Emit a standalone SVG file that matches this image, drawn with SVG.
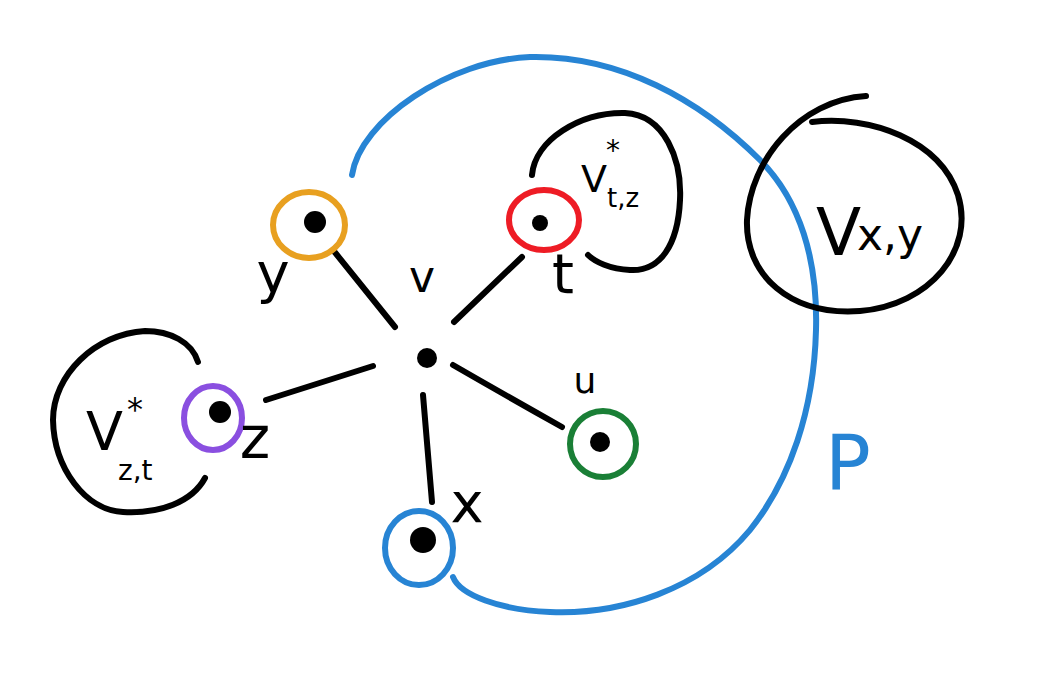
<svg xmlns="http://www.w3.org/2000/svg" width="1047" height="691" viewBox="0 0 1047 691">
<style>
.k{fill:none;stroke:#000;stroke-width:6;stroke-linecap:round;stroke-linejoin:round}
.ring{fill:none;stroke-width:6}
.dot{fill:#000}
.lbl{font-family:"DejaVu Sans","Liberation Sans",sans-serif;fill:#000}
.blue{stroke:#2784D4}
</style>
<rect width="1047" height="691" fill="#fff"/>
<g id="path-P">
<path class="k blue" d="M352,175 C360,120 450,60 530,57 C620,55 700,100 760,160 C800,200 818,260 816,330 C814,410 790,480 750,530 C700,590 620,615 550,612 C500,610 460,595 453,577"/>
<text class="lbl" x="848" y="490" font-size="76" text-anchor="middle" style="fill:#2784D4">P</text>
</g>
<g id="connectors">
<path class="k" d="M333,250 L395,327"/>
<path class="k" d="M522,257 L454,322"/>
<path class="k" d="M373,366 L266,400"/>
<path class="k" d="M423,395 L432,502"/>
<path class="k" d="M453,365 Q505,395 562,427"/>
</g>
<g id="node-v">
<circle class="dot" cx="427" cy="358" r="10"/>
<text class="lbl" x="422" y="292" font-size="44" text-anchor="middle">v</text>
</g>
<g id="node-y">
<ellipse class="ring" cx="309" cy="225" rx="36" ry="33" stroke="#E8A020"/>
<circle class="dot" cx="315" cy="222" r="11"/>
<text class="lbl" x="273" y="292" font-size="56" text-anchor="middle">y</text>
</g>
<g id="node-t">
<ellipse class="ring" cx="544" cy="220" rx="35" ry="30" stroke="#EE1C25"/>
<circle class="dot" cx="540" cy="223" r="8"/>
<text class="lbl" x="563" y="293" font-size="56" text-anchor="middle">t</text>
</g>
<g id="node-u">
<ellipse class="ring" cx="603" cy="444" rx="33" ry="33" stroke="#1A7F36"/>
<circle class="dot" cx="600" cy="442" r="10"/>
<text class="lbl" x="585" y="393" font-size="36" text-anchor="middle">u</text>
</g>
<g id="node-z">
<ellipse class="ring" cx="213" cy="418" rx="29" ry="32" stroke="#8A4FE0"/>
<circle class="dot" cx="220" cy="412" r="11"/>
<text class="lbl" x="255" y="458" font-size="58" text-anchor="middle">z</text>
</g>
<g id="node-x">
<ellipse class="ring" cx="419" cy="548" rx="34" ry="37" stroke="#2784D4"/>
<circle class="dot" cx="423" cy="540" r="13"/>
<text class="lbl" x="467" y="522" font-size="56" text-anchor="middle">x</text>
</g>
<g id="set-Vtz">
<path class="k" d="M532,175 C535,140 580,112 625,113 C665,115 682,160 680,200 C678,245 660,272 630,270 C610,269 595,262 588,255"/>
<text class="lbl" x="581" y="192" font-size="38">V</text>
<text class="lbl" x="606" y="160" font-size="28">*</text>
<text class="lbl" x="607" y="207" font-size="26">t,z</text>
</g>
<g id="set-Vzt">
<path class="k" d="M198,362 C192,342 170,331 145,331 C95,334 53,375 53,420 C54,468 85,510 123,512 C160,514 192,502 205,478"/>
<text class="lbl" x="86" y="450" font-size="54">V</text>
<text class="lbl" x="127" y="420" font-size="32">*</text>
<text class="lbl" x="118" y="480" font-size="28">z,t</text>
</g>
<g id="set-Vxy">
<path class="k" d="M812,122 C870,115 940,140 958,195 C975,250 930,305 860,311 C790,316 745,275 747,220 C750,160 800,100 866,96"/>
<text class="lbl" x="816" y="255" font-size="66">V</text>
<text class="lbl" x="857" y="250" font-size="44">x,y</text>
</g>
</svg>
